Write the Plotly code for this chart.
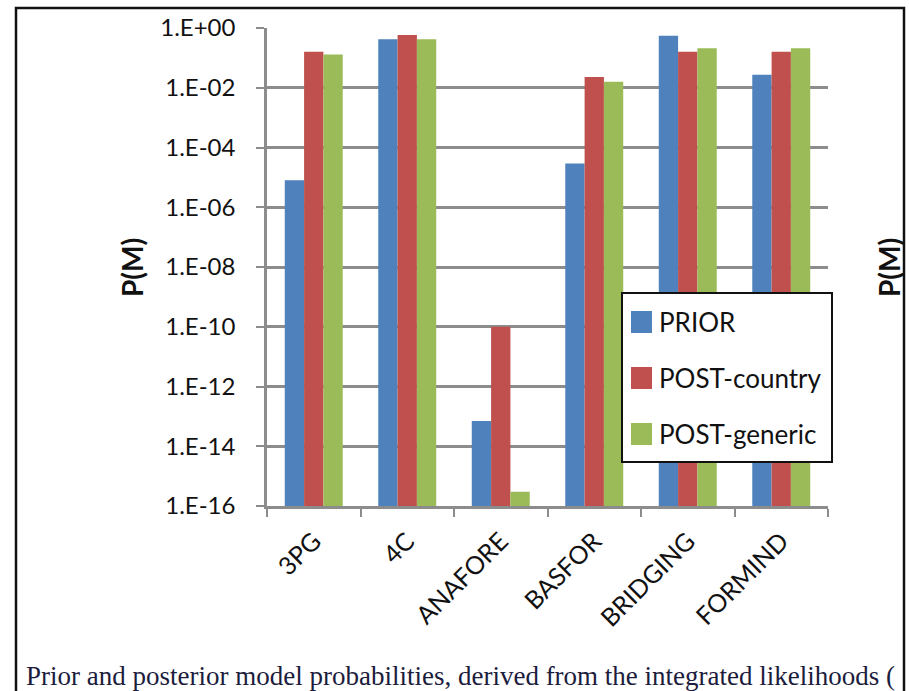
import plotly.graph_objects as go

# Model names and probabilities P(M) for each series
models = ["3PG", "4C", "ANAFORE", "BASFOR", "BRIDGING", "FORMIND"]
prior = [8e-6, 0.42, 7e-14, 2.9e-5, 0.55, 0.027]
post_country = [0.16, 0.58, 1.0e-10, 0.023, 0.16, 0.16]
post_generic = [0.13, 0.42, 3e-16, 0.016, 0.21, 0.21]
series_names = ["PRIOR", "POST-country", "POST-generic"]
series_values = [prior, post_country, post_generic]
series_colors = ["#4f81bd", "#c0504d", "#9bbb59"]

tick_exponents = list(range(0, -17, -2))
tick_values = [10.0 ** e for e in tick_exponents]
tick_labels = ["1.E+00"] + ["1.E-%02d" % (-e) for e in tick_exponents[1:]]

caption = "Prior and posterior model probabilities, derived from the integrated likelihoods ("

W, H = 909, 691
L, R, T, B = 267, 828, 28, 506  # plot area in pixels


def px(x):
    return (x - L) / (R - L)


def py(y):
    return (B - y) / (B - T)


FONT = "Lato, Open Sans, sans-serif"
GRID = "#8c8c8c"

fig = go.Figure()
for name, vals, col in zip(series_names, series_values, series_colors):
    fig.add_trace(go.Bar(
        x=models, y=vals, name=name,
        marker=dict(color=col, line=dict(width=0)),
        showlegend=False,
    ))

shapes = []
annotations = []

# outer frame of the figure panel
shapes.append(dict(type="rect", xref="paper", yref="paper",
                   x0=px(16), x1=px(904), y0=py(8), y1=py(720),
                   line=dict(color="#111111", width=2.5), layer="above"))

# legend box with swatches
shapes.append(dict(type="rect", xref="paper", yref="paper",
                   x0=px(622), x1=px(832), y0=py(293), y1=py(462),
                   line=dict(color="#111111", width=2), fillcolor="white",
                   layer="above"))
for i, (name, col) in enumerate(zip(series_names, series_colors)):
    yc = 322 + 56 * i
    shapes.append(dict(type="rect", xref="paper", yref="paper",
                       x0=px(631), x1=px(652), y0=py(yc - 11), y1=py(yc + 11),
                       line=dict(width=0), fillcolor=col, layer="above"))
    annotations.append(dict(text=name, xref="paper", yref="paper",
                            x=px(657), y=py(yc), xanchor="left", yanchor="middle",
                            showarrow=False,
                            font=dict(family=FONT, size=26, color="#111111")))

# y-axis titles (this panel and the neighbouring one)
for xpos in (132, 889):
    annotations.append(dict(text="<b>P(M)</b>", xref="paper", yref="paper",
                            x=px(xpos), y=py(268), textangle=-90,
                            xanchor="center", yanchor="middle", showarrow=False,
                            font=dict(family=FONT, size=28, color="#111111")))

# caption below the chart
annotations.append(dict(text=caption, xref="paper", yref="paper",
                        x=px(24), y=py(676), xanchor="left", yanchor="middle",
                        showarrow=False,
                        font=dict(family="Liberation Serif, serif", size=27,
                                  color="#1c1c3c")))

fig.update_layout(
    width=W, height=H,
    margin=dict(l=L, r=W - R, t=T, b=H - B, autoexpand=False),
    paper_bgcolor="white", plot_bgcolor="white",
    barmode="group", bargap=0.38, bargroupgap=0,
    showlegend=False,
    shapes=shapes, annotations=annotations,
    font=dict(family=FONT, color="#111111"),
)
fig.update_yaxes(
    type="log", range=[-16, 0],
    tickvals=tick_values, ticktext=tick_labels,
    tickfont=dict(family=FONT, size=24, color="#111111"),
    ticks="outside", ticklen=8, tickwidth=2, tickcolor=GRID,
    ticklabelstandoff=16,
    showgrid=True, gridcolor=GRID, gridwidth=2.5,
    showline=True, linecolor=GRID, linewidth=2.5,
    zeroline=False,
)
fig.update_xaxes(
    type="category", tickson="boundaries",
    tickangle=-45,
    tickfont=dict(family=FONT, size=25, color="#111111"),
    ticks="outside", ticklen=8, tickwidth=2, tickcolor=GRID,
    ticklabelstandoff=8,
    showline=True, linecolor=GRID, linewidth=2.5,
    showgrid=False,
)

fig.write_html("out.html")
